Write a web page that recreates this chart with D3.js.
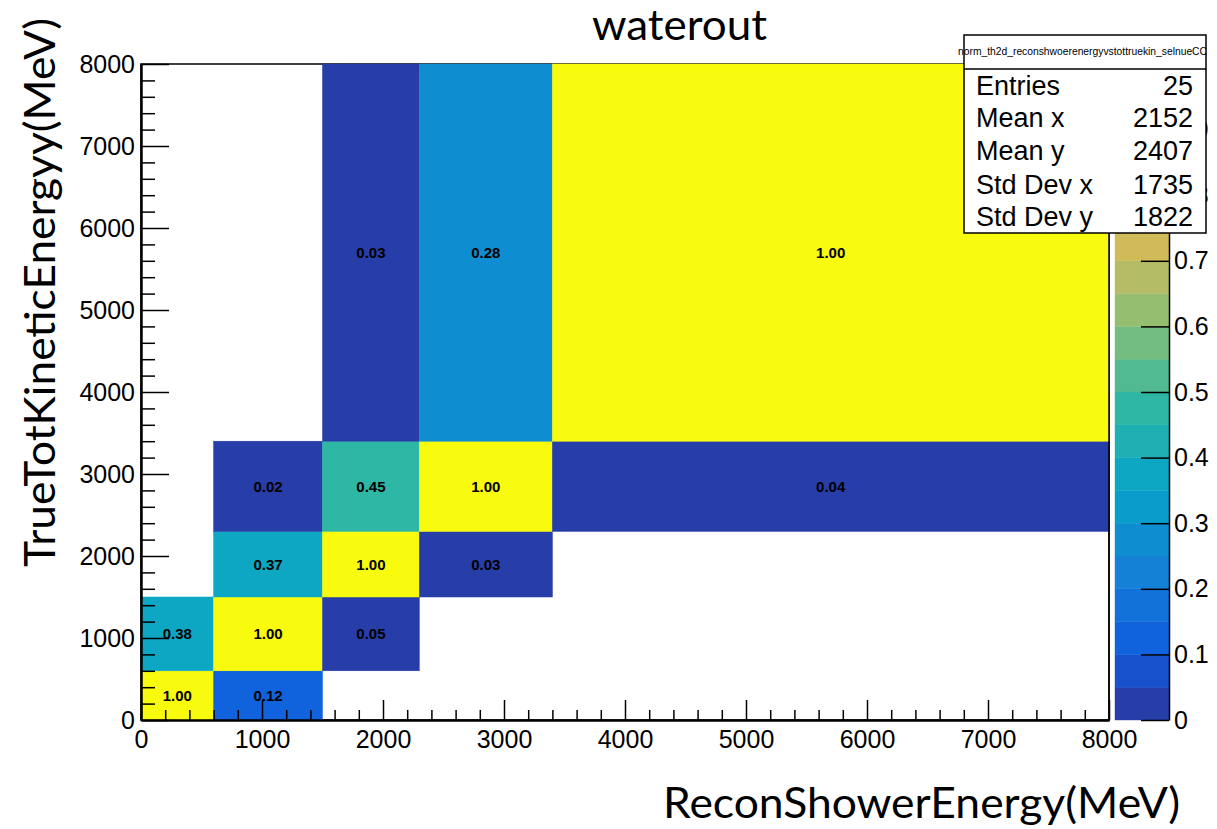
<!DOCTYPE html>
<html>
<head>
<meta charset="utf-8">
<script src="https://cdn.jsdelivr.net/npm/d3@7"></script>
<style>
  html, body { margin: 0; padding: 0; background: #ffffff; }
  svg { display: block; }
</style>
</head>
<body>
<div id="chart"></div>
<script>
// ---------------- data ----------------
const xBinEdges = [0, 600, 1500, 2300, 3400, 8000];
const yBinEdges = [0, 600, 1500, 2300, 3400, 8000];
const cellXBin  = [0, 0, 1, 1, 1, 1, 2, 2, 2, 2, 3, 3, 3, 4, 4];
const cellYBin  = [0, 1, 0, 1, 2, 3, 1, 2, 3, 4, 2, 3, 4, 3, 4];
const cellValue = [1.00, 0.38, 0.12, 1.00, 0.37, 0.02, 0.047, 1.00, 0.45, 0.03, 0.03, 1.00, 0.28, 0.04, 1.00];
const axisTicks = [0, 1000, 2000, 3000, 4000, 5000, 6000, 7000, 8000];
const colorTicks = [0, 0.1, 0.2, 0.3, 0.4, 0.5, 0.6, 0.7, 0.8, 0.9, 1.0];
const statLabels = ["Entries", "Mean x", "Mean y", "Std Dev x", "Std Dev y"];
const statValues = ["25", "2152", "2407", "1735", "1822"];
const histName = "norm_th2d_reconshwoerenergyvstottruekin_selnueCC";
const chartTitle = "waterout";
const xTitle = "ReconShowerEnergy(MeV)";
const yTitle = "TrueTotKineticEnergyy(MeV)";

// ROOT kBird palette
const birdStops = [0.0000, 0.1250, 0.2500, 0.3750, 0.5000, 0.6250, 0.7500, 0.8750, 1.0000];
const birdRed   = [0.2082, 0.0592, 0.0780, 0.0232, 0.1802, 0.5301, 0.8186, 0.9956, 0.9764];
const birdGreen = [0.1664, 0.3599, 0.5041, 0.6419, 0.7178, 0.7492, 0.7328, 0.7862, 0.9832];
const birdBlue  = [0.5293, 0.8684, 0.8385, 0.7914, 0.6425, 0.4662, 0.3499, 0.1968, 0.0539];
const nContours = 20;

// ---------------- layout ----------------
const W = 1217, H = 829;
const L = 141, R = 1109, T = 64, B = 720;

const svg = d3.select("#chart").append("svg")
  .attr("width", W).attr("height", H)
  .style("font-family", "'Liberation Sans', Arial, Helvetica, sans-serif");

svg.append("rect").attr("width", W).attr("height", H).attr("fill", "#fff");

const x = d3.scaleLinear().domain([0, 8000]).range([L, R]);
const y = d3.scaleLinear().domain([0, 8000]).range([B, T]);
const z = d3.scaleLinear().domain([0, 1]).range([B, T]);

const rScale = d3.scaleLinear().domain(birdStops).range(birdRed);
const gScale = d3.scaleLinear().domain(birdStops).range(birdGreen);
const bScale = d3.scaleLinear().domain(birdStops).range(birdBlue);
function bandColor(i) {
  const idx = Math.floor((i + 0.99) * 255 / nContours);
  const t = Math.min(idx, 254) / 254;
  return d3.rgb(rScale(t) * 255, gScale(t) * 255, bScale(t) * 255).formatHex();
}
function valueColor(v) {
  const band = Math.max(0, Math.min(nContours - 1, Math.floor(v * nContours + 1e-9)));
  return bandColor(band);
}

// frame (top/right) under cells
svg.append("rect").attr("x", L).attr("y", T).attr("width", R - L).attr("height", B - T)
  .attr("fill", "none").attr("stroke", "#000").attr("stroke-width", 1.5);

// cells
const cells = cellValue.map((v, i) => ({
  x0: xBinEdges[cellXBin[i]], x1: xBinEdges[cellXBin[i] + 1],
  y0: yBinEdges[cellYBin[i]], y1: yBinEdges[cellYBin[i] + 1], v
}));
svg.append("g").selectAll("rect").data(cells).join("rect")
  .attr("x", d => x(d.x0)).attr("y", d => y(d.y1))
  .attr("width", d => x(d.x1) - x(d.x0)).attr("height", d => y(d.y0) - y(d.y1))
  .attr("fill", d => valueColor(d.v))
  .attr("stroke", d => valueColor(d.v)).attr("stroke-width", 0.5);

svg.append("g").selectAll("text").data(cells).join("text")
  .attr("x", d => x((d.x0 + d.x1) / 2)).attr("y", d => y((d.y0 + d.y1) / 2))
  .attr("text-anchor", "middle").attr("dy", "0.36em")
  .style("font-weight", "bold").style("font-size", "15px")
  .text(d => d.v.toFixed(2));

// right frame line on top
svg.append("line").attr("x1", R).attr("x2", R).attr("y1", T).attr("y2", B)
  .attr("stroke", "#000").attr("stroke-width", 1.5);

// axes
const minorX = d3.range(0, 8001, 200).filter(v => v % 1000 !== 0);
const gxMinor = svg.append("g").attr("transform", `translate(0,${B})`)
  .call(d3.axisBottom(x).tickValues(minorX).tickSize(-10).tickSizeOuter(0).tickFormat(""));
const gx = svg.append("g").attr("transform", `translate(0,${B})`)
  .call(d3.axisBottom(x).tickValues(axisTicks).tickSize(-20).tickSizeOuter(0).tickPadding(10).tickFormat(d3.format("d")));
const gyMinor = svg.append("g").attr("transform", `translate(${L},0)`)
  .call(d3.axisLeft(y).tickValues(minorX).tickSize(-14).tickSizeOuter(0).tickFormat(""));
const gy = svg.append("g").attr("transform", `translate(${L},0)`)
  .call(d3.axisLeft(y).tickValues(axisTicks).tickSize(-28).tickSizeOuter(0).tickPadding(6).tickFormat(d3.format("d")));

[gxMinor, gx, gyMinor, gy].forEach(g => {
  g.selectAll("path.domain").attr("stroke", "#000").attr("stroke-width", 2);
  g.selectAll(".tick line").attr("stroke", "#000").attr("stroke-width", 1.5);
  g.selectAll("text").attr("fill", "#000").style("font-size", "25px")
    .style("font-family", "'Liberation Sans', Arial, Helvetica, sans-serif");
});

// color bar
const CB0 = 1115, CB1 = 1169;
const bands = d3.range(nContours);
svg.append("g").selectAll("rect").data(bands).join("rect")
  .attr("x", CB0).attr("width", CB1 - CB0)
  .attr("y", i => z((i + 1) / nContours)).attr("height", i => z(i / nContours) - z((i + 1) / nContours))
  .attr("fill", i => bandColor(i)).attr("stroke", i => bandColor(i)).attr("stroke-width", 0.4);

const gz = svg.append("g").attr("transform", `translate(${CB1},0)`)
  .call(d3.axisRight(z).tickValues(colorTicks).tickSize(-28).tickSizeOuter(0).tickPadding(5)
    .tickFormat(d => d === 0 ? "0" : d === 1 ? "1" : d3.format(".1f")(d)));
gz.selectAll("path.domain").attr("stroke", "#000").attr("stroke-width", 1.5);
gz.selectAll(".tick line").attr("stroke", "#000").attr("stroke-width", 1.5);
gz.selectAll("text").attr("fill", "#000").style("font-size", "25px")
  .style("font-family", "'Liberation Sans', Arial, Helvetica, sans-serif");

// titles
const titleFont = "Lato, 'Open Sans', sans-serif";
svg.append("text").attr("x", 592).attr("y", 40)
  .attr("textLength", 175).attr("lengthAdjust", "spacingAndGlyphs")
  .style("font-family", titleFont).style("font-size", "43px").attr("fill", "#000")
  .text(chartTitle);
svg.append("text").attr("x", 663).attr("y", 818)
  .attr("textLength", 517).attr("lengthAdjust", "spacingAndGlyphs")
  .style("font-family", titleFont).style("font-size", "43px").attr("fill", "#000")
  .text(xTitle);
svg.append("text").attr("transform", "translate(55,567) rotate(-90)")
  .attr("textLength", 549).attr("lengthAdjust", "spacingAndGlyphs")
  .style("font-family", titleFont).style("font-size", "42px").attr("fill", "#000")
  .text(yTitle);

// stats box
const SB = {x: 964, y: 35, w: 242, h: 198};
svg.append("rect").attr("x", SB.x).attr("y", SB.y).attr("width", SB.w).attr("height", SB.h)
  .attr("fill", "#fff").attr("stroke", "#000").attr("stroke-width", 1.5);
svg.append("line").attr("x1", SB.x).attr("x2", SB.x + SB.w).attr("y1", 69).attr("y2", 69)
  .attr("stroke", "#000").attr("stroke-width", 1.5);
svg.append("text").attr("x", 958).attr("y", 55)
  .attr("textLength", 249).attr("lengthAdjust", "spacingAndGlyphs")
  .style("font-size", "11px").attr("fill", "#000").text(histName);
const statBaselines = [95, 127, 160, 194, 226];
const gs = svg.append("g");
gs.selectAll("text.lab").data(statLabels).join("text").attr("class", "lab")
  .attr("x", 976).attr("y", (d, i) => statBaselines[i])
  .style("font-size", "27px").attr("fill", "#000").text(d => d);
gs.selectAll("text.val").data(statValues).join("text").attr("class", "val")
  .attr("x", 1193).attr("y", (d, i) => statBaselines[i]).attr("text-anchor", "end")
  .style("font-size", "27px").attr("fill", "#000").text(d => d);
</script>
</body>
</html>
